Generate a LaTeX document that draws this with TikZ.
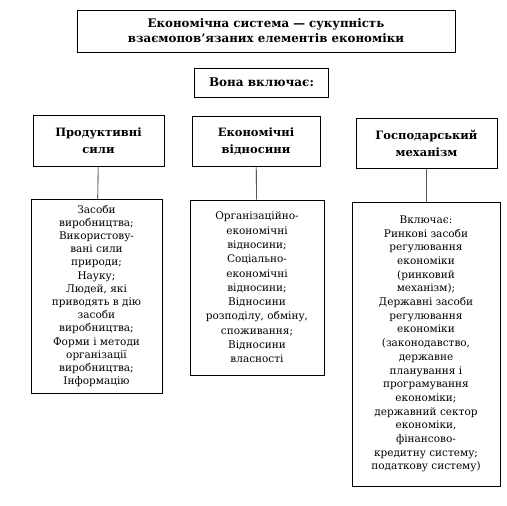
\documentclass[tikz,border=0pt]{standalone}
\usepackage{fontspec}
\setmainfont{DejaVu Serif}
\usetikzlibrary{positioning}
\tikzset{%
	titlebox/.style = {draw, rectangle, line width=0.9pt, inner sep=0pt, align=center, font=\bfseries\fontsize{11.8}{15}\selectfont},
	headbox/.style  = {draw, rectangle, line width=0.9pt, inner sep=0pt, align=center, font=\bfseries\fontsize{11.5}{17}\selectfont},
	listbox/.style  = {draw, rectangle, line width=0.9pt, inner sep=0pt, align=center, font=\fontsize{10.5}{13.2}\selectfont},
	link/.style     = {line width=0.6pt},
}

\begin{document}
\begin{tikzpicture}[x=1pt,y=-1pt]
	\useasboundingbox (0,0) rectangle (507,506);
	
	\node[titlebox, minimum width=378pt, minimum height=42pt] (system) at (266,31) {Економічна система — сукупність\\взаємопов’язаних елементів економіки};
	\node[titlebox, minimum width=134pt, minimum height=29pt, font=\bfseries\fontsize{12}{15}\selectfont] (includes) at (261.5,82.5) {Вона включає:};
	
	\node[headbox, minimum width=131pt, minimum height=51pt] (forces) at (98.5,140.5) {Продуктивні\\сили};
	\node[headbox, minimum width=128pt, minimum height=50pt] (relations) at (256,141) {Економічні\\відносини};
	\node[headbox, minimum width=141pt, minimum height=50pt] (mechanism) at (426.5,143) {Господарський\\механізм};
	
	\node[listbox, minimum width=131pt, minimum height=194pt] (forceslist) at (96.5,296) {Засоби\\виробництва;\\Використову-\\вані сили\\природи;\\Науку;\\Людей, які\\приводять в дію\\засоби\\виробництва;\\Форми і методи\\організації\\виробництва;\\Інформацію};
	\node[listbox, minimum width=134pt, minimum height=175pt, font=\fontsize{10.5}{14.3}\selectfont] (relationslist) at (257,287.5) {Організаційно-\\економічні\\відносини;\\Соціально-\\економічні\\відносини;\\Відносини\\розподілу, обміну,\\споживання;\\Відносини\\власності};
	\node[listbox, minimum width=148pt, minimum height=284pt, font=\fontsize{10.5}{13.7}\selectfont] (mechanismlist) at (426,344) {Включає:\\Ринкові засоби\\регулювання\\економіки\\(ринковий\\механізм);\\Державні засоби\\регулювання\\економіки\\(законодавство,\\державне\\планування і\\програмування\\економіки;\\державний сектор\\економіки,\\фінансово-\\кредитну систему;\\податкову систему)};
	
	\draw[link] (forces) -- (forceslist);
	\draw[link] (relations) -- (relationslist);
	\draw[link] (mechanism) -- (mechanismlist);
\end{tikzpicture}
\end{document}
